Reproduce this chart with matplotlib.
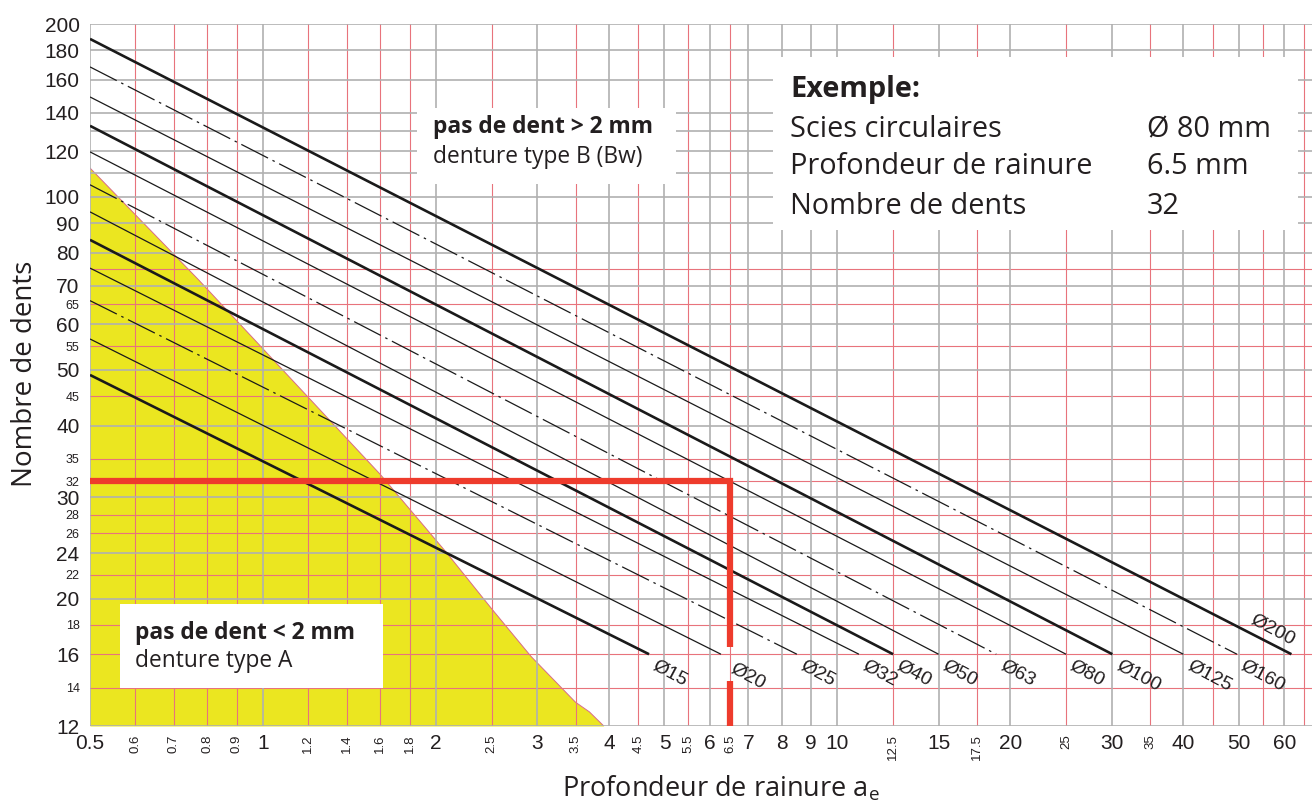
import matplotlib.pyplot as plt
from matplotlib.patches import Rectangle

W, H = 1313, 805
AX_L, AX_R, AX_T, AX_B = 90, 1312, 24, 726   # cadre des axes en pixels

# droites par diamètre de scie : nombre de dents à ae = 0.5 et ae où z = 16
diametres = [15, 20, 25, 32, 40, 50, 63, 80, 100, 125, 160, 200]
dents_debut = [49.0, 56.6, 66.0, 75.2, 84.2, 94.2, 105, 119.8, 133, 149.3, 168.4, 188.4]
ae_fin = [4.70, 6.27, 8.50, 10.9, 12.5, 15.0, 18.9, 25.0, 30.1, 40.0, 49.6, 61.7]
ae_debut = 0.5
dents_fin = 16
traits = ['fort', 'fin', 'mixte', 'fin', 'fort', 'fin', 'mixte', 'fin', 'fort', 'fin', 'mixte', 'fort']

# limite de la zone jaune (pas de dent < 2 mm)
zone_ae = [0.5, 0.773, 1.6, 2.09, 2.49, 2.93, 3.5, 3.7, 3.92]
zone_z = [112.3, 71.7, 32.9, 24.0, 19.3, 15.85, 13.2, 12.7, 12.0]

# exemple
ex_d, ex_ae, ex_z = 80, 6.5, 32
ex_coupure = (16.5, 14.4)

x_lim = (0.5, 67)
y_lim = (12, 200)
x_grands = [0.5, 1, 2, 3, 4, 5, 6, 7, 8, 9, 10, 15, 20, 30, 40, 50, 60]
x_petits = [0.6, 0.7, 0.8, 0.9, 1.2, 1.4, 1.6, 1.8, 2.5, 3.5, 4.5, 5.5, 6.5, 12.5, 17.5, 25, 35]
y_grands = [12, 16, 20, 24, 30, 40, 50, 60, 70, 80, 90, 100, 120, 140, 160, 180, 200]
y_petits = [14, 18, 22, 26, 28, 32, 35, 45, 55, 65]

grille_x_gris = [0.5, 1, 2, 3, 4, 5, 6, 7, 8, 9, 10, 15, 20, 30, 40, 50, 60]
grille_x_rouge = [0.6, 0.7, 0.8, 0.9, 1.2, 1.4, 1.6, 1.8, 2.5, 3.5, 4.5, 5.5, 6.5,
                  12.5, 17.5, 25, 35, 45, 55, 65]
grille_y_gris = [12, 20, 24, 30, 40, 50, 60, 70, 80, 90, 100, 110, 120, 130, 140, 160, 180, 200]
grille_y_rouge = [14, 16, 18, 22, 26, 28, 32, 35, 45, 55, 65, 75]

GRIS = '#b0b0b0'
ROUGE = '#e8737c'
JAUNE = '#ebe620'
ROUGE_EX = '#ee3b2c'
TXT = '#231f20'
POLICE = 'Open Sans'
POLICE_AXE = 'Liberation Sans'

fig = plt.figure(figsize=(W / 100, H / 100), dpi=100)
ax = fig.add_axes([AX_L / W, (H - AX_B) / H, (AX_R - AX_L) / W, (AX_B - AX_T) / H])
ax.set_xscale('log')
ax.set_yscale('log')
ax.set_xlim(*x_lim)
ax.set_ylim(*y_lim)
for s in ax.spines.values():
    s.set_visible(False)

# zone jaune
ax.fill_between(zone_ae, zone_z, y_lim[0], color=JAUNE, lw=0, zorder=1)
ax.plot(zone_ae, zone_z, color='#d86a8a', lw=0.7, zorder=1.5)

# grille
for v in grille_x_rouge:
    ax.axvline(v, color=ROUGE, lw=0.8, zorder=2)
for v in grille_y_rouge:
    ax.axhline(v, color=ROUGE, lw=0.8, zorder=2)
for v in grille_x_gris:
    ax.axvline(v, color=GRIS, lw=1.2, zorder=2.2)
for v in grille_y_gris:
    ax.axhline(v, color=GRIS, lw=1.2, zorder=2.2)

# droites des diamètres
for d, z0, a1, t in zip(diametres, dents_debut, ae_fin, traits):
    if t == 'fort':
        kw = dict(lw=1.9, ls='-')
    elif t == 'fin':
        kw = dict(lw=0.9, ls='-')
    else:
        kw = dict(lw=0.9, ls=(0, (24, 4, 2, 4)))
    ax.plot([ae_debut, a1], [z0, dents_fin], color='#1a1a1a', zorder=3,
            solid_capstyle='butt', **kw)
    if d == 200:
        ax.annotate(f'Ø{d}', xy=(a1, dents_fin), xytext=(6, 6), textcoords='offset pixels',
                    ha='right', va='bottom', rotation=-28, fontsize=14,
                    family=POLICE_AXE, color=TXT, zorder=4)
    else:
        dx, dy = (7, -6) if d == 20 else (1, -3)
        ax.annotate(f'Ø{d}', xy=(a1, dents_fin), xytext=(dx, dy), textcoords='offset pixels',
                    ha='left', va='top', rotation=-28, fontsize=14,
                    family=POLICE_AXE, color=TXT, zorder=4)

# ticks
ax.set_xticks(x_grands, labels=[f'{v:g}' for v in x_grands])
ax.set_xticks(x_petits, labels=[f'{v:g}' for v in x_petits], minor=True)
ax.set_yticks(y_grands, labels=[f'{v:g}' for v in y_grands])
ax.set_yticks(y_petits, labels=[f'{v:g}' for v in y_petits], minor=True)
ax.tick_params(which='both', length=0, colors=TXT)
ax.tick_params(axis='x', which='major', labelsize=15, pad=6)
ax.tick_params(axis='x', which='minor', labelsize=9.5, pad=6, labelrotation=90)
ax.tick_params(axis='y', which='major', labelsize=15, pad=7.5)
ax.tick_params(axis='y', which='minor', labelsize=9, pad=7.5)
for lab in ax.get_xticklabels(which='both') + ax.get_yticklabels(which='both'):
    lab.set_family(POLICE_AXE)


def fx(px):
    return px / W


def fy(py):
    return 1 - py / H


def boite(x0, y0, x1, y1):
    ax.add_patch(Rectangle((fx(x0), fy(y1)), fx(x1) - fx(x0), fy(y0) - fy(y1),
                           transform=fig.transFigure, facecolor='white', edgecolor='none',
                           zorder=5, clip_on=False))


def texte(px, py, s, size, bold=False, **kw):
    ax.text(fx(px), fy(py), s, transform=fig.transFigure, fontsize=size,
            fontweight='bold' if bold else 'normal', family=POLICE, color=TXT,
            va='baseline', zorder=6, clip_on=False, **kw)


# encadré exemple
boite(773, 57, 1298, 230)
texte(790, 97, 'Exemple:', 20.8, bold=True)
texte(790, 137, 'Scies circulaires', 20.8)
texte(790, 174, 'Profondeur de rainure', 20.8)
texte(790, 214, 'Nombre de dents', 20.8)
texte(1147, 137, f'Ø {ex_d} mm', 20.8)
texte(1147, 174, f'{ex_ae:g} mm', 20.8)
texte(1147, 214, f'{ex_z}', 20.8)

# encadrés des zones
boite(417, 108, 676, 184)
texte(433, 133, 'pas de dent > 2 mm', 16.4, bold=True)
texte(433, 163, 'denture type B (Bw)', 16.4)
boite(120, 604, 383, 688)
texte(135, 639, 'pas de dent < 2 mm', 16.4, bold=True)
texte(135, 667, 'denture type A', 16.4)

# tracé de l'exemple
ax.plot([x_lim[0], ex_ae, ex_ae], [ex_z, ex_z, ex_coupure[0]], color=ROUGE_EX, lw=4.5,
        solid_joinstyle='miter', solid_capstyle='butt', zorder=7, clip_on=False)
ax.plot([ex_ae, ex_ae], [ex_coupure[1], y_lim[0]], color=ROUGE_EX, lw=4.5,
        solid_capstyle='butt', zorder=7, clip_on=False)

# titres des axes
fig.text(fx(25), fy(374), 'Nombre de dents', rotation=90, ha='center', va='center',
         fontsize=20, family=POLICE, color=TXT)
fig.text(fx(562), fy(796), r'Profondeur de rainure a$_\mathregular{e}$', ha='left',
         va='baseline', fontsize=19.5, family=POLICE, color=TXT)

fig.savefig('out.png', dpi=100, facecolor='white')
